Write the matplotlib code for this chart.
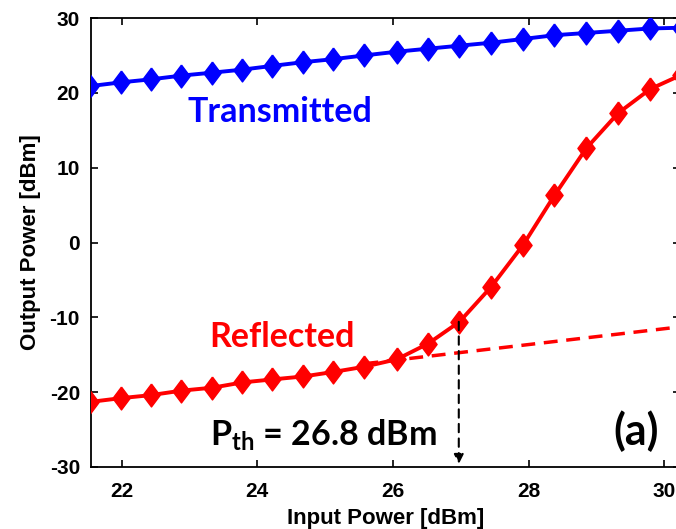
import matplotlib.pyplot as plt
from matplotlib.ticker import MultipleLocator

# input power [dBm]
p_in = [21.54, 21.99, 22.43, 22.88, 23.34, 23.78, 24.22, 24.68, 25.12, 25.58,
        26.06, 26.52, 26.98, 27.45, 27.92, 28.38, 28.85, 29.32, 29.79, 30.25]
transmitted = [20.9, 21.4, 21.8, 22.3, 22.7, 23.1, 23.6, 24.1, 24.5, 25.0,
               25.5, 25.9, 26.3, 26.7, 27.2, 27.7, 28.0, 28.3, 28.6, 28.7]
reflected = [-21.3, -20.8, -20.4, -19.8, -19.4, -18.7, -18.3, -17.9, -17.3, -16.6,
             -15.6, -13.5, -10.6, -5.9, -0.3, 6.3, 12.6, 17.3, 20.5, 22.4]

# linear extrapolation of reflected power below threshold
extrap_x = [25.58, 30.3]
extrap_y = [-16.2, -11.2]

# threshold marker
th_x = 26.97
th_y0, th_y1 = -10.6, -29.6

plt.rcParams['font.family'] = ['Liberation Sans', 'DejaVu Sans']
plt.rcParams['axes.unicode_minus'] = False
plt.rcParams['mathtext.fontset'] = 'custom'
plt.rcParams['mathtext.bf'] = 'Lato:bold'
plt.rcParams['mathtext.rm'] = 'Lato'

# slightly elongated diamond
diamond = [(0, 1), (0.75, 0), (0, -1), (-0.75, 0), (0, 1)]

fig = plt.figure(figsize=(6.76, 5.29), dpi=100)
ax = fig.add_axes([91 / 676, 62 / 529, 589 / 676, 449 / 529])

ax.plot(p_in, transmitted, color='#0000FF', lw=2.8, marker=diamond, ms=16.5, zorder=3)
ax.plot(p_in, reflected, color='#FF0000', lw=2.8, marker=diamond, ms=16.5, zorder=3)
ax.plot(extrap_x, extrap_y, color='#FF0000', lw=2.5, ls=(0, (4, 2.5)), zorder=2)

ax.annotate('', xy=(th_x, th_y1), xytext=(th_x, th_y0),
            arrowprops=dict(arrowstyle='-|>', color='black', lw=1.5,
                            ls=(0, (4, 3)), mutation_scale=14, shrinkA=0, shrinkB=0))

txt_font = ['Lato', 'DejaVu Sans']
ax.text(24.33, 16.1, 'Transmitted', color='#0000FF', fontsize=24.5, fontweight='bold',
        ha='center', va='baseline', family=txt_font)
ax.text(24.36, -14.0, 'Reflected', color='#FF0000', fontsize=24.5, fontweight='bold',
        ha='center', va='baseline', family=txt_font)
ax.text(24.97, -27.1, r'P$_{\mathbf{th}}$ = 26.8 dBm', color='black', fontsize=24.5,
        fontweight='bold', ha='center', va='baseline', family=txt_font)
ax.text(29.58, -27.1, '(a)', color='black', fontsize=31, fontweight='bold',
        ha='center', va='baseline', family=txt_font)

ax.set_xlim(21.55, 30.23)
ax.set_ylim(-30, 30)
ax.xaxis.set_major_locator(MultipleLocator(2))
ax.yaxis.set_major_locator(MultipleLocator(10))
ax.tick_params(direction='in', top=True, right=True, length=5, width=1.2,
               labelsize=15)
ax.tick_params(axis='x', pad=11)
ax.tick_params(axis='y', pad=8)
for lab in ax.get_xticklabels() + ax.get_yticklabels():
    lab.set_fontweight('bold')
for s in ax.spines.values():
    s.set_linewidth(1.3)

ax.set_xlabel('Input Power [dBm]', fontsize=16, fontweight='bold', labelpad=5)
ax.set_ylabel('Output Power [dBm]', fontsize=16, fontweight='bold', labelpad=6)

fig.savefig('out.png', dpi=100)
